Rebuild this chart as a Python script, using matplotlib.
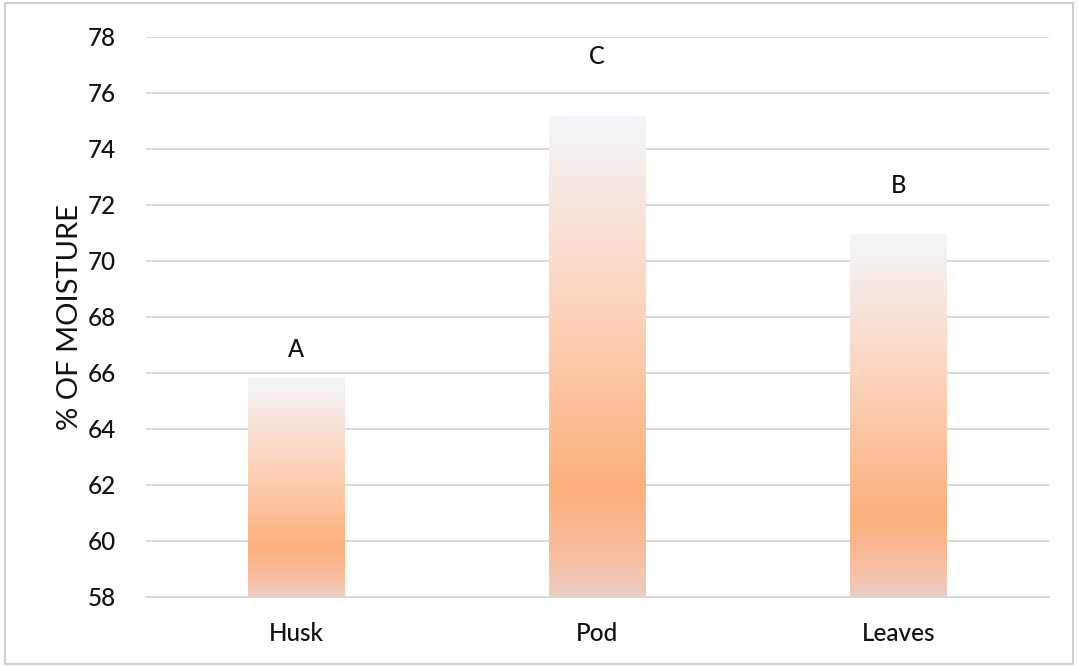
import matplotlib.pyplot as plt
import numpy as np
from matplotlib.colors import LinearSegmentedColormap
from matplotlib.patches import Rectangle

plt.rcParams['font.family'] = ['Lato', 'DejaVu Sans']
plt.rcParams['font.weight'] = 'medium'

categories = ['Husk', 'Pod', 'Leaves']
moisture = [65.85, 75.15, 70.95]
letters = ['A', 'C', 'B']
letter_y = [66.85, 77.3, 72.7]

# vertical gradient, bottom -> top
grad = LinearSegmentedColormap.from_list('bar', [
    (0.0, '#EACDC3'),
    (0.08, '#F7BFA3'),
    (0.22, '#FCB07C'),
    (0.55, '#FDCFB3'),
    (0.82, '#F8E6DE'),
    (1.0, '#F2F6FA'),
])

fig = plt.figure(figsize=(10.78, 6.67), dpi=100)
ax = fig.add_axes([0.135, 0.105, 0.838, 0.84])

ymin, ymax = 58, 78
width = 0.32
g = np.linspace(0, 1, 256).reshape(-1, 1)
for i, v in enumerate(moisture):
    ax.imshow(g, cmap=grad, origin='lower', aspect='auto',
              extent=[i - width / 2, i + width / 2, ymin, v], zorder=2)
    ax.text(i, letter_y[i], letters[i], ha='center', va='center', fontsize=17,
            color='#111111')

ax.set_xlim(-0.5, 2.5)
ax.set_ylim(ymin, ymax)
ax.set_yticks(np.arange(58, 79, 2))
ax.set_xticks(range(len(categories)))
ax.set_xticklabels(categories)
ax.tick_params(axis='both', length=0, labelsize=17.5, labelcolor='#111111')
ax.tick_params(axis='y', pad=21)
ax.tick_params(axis='x', pad=18)
ax.grid(axis='y', color='#D9D9D9', linewidth=1.4, zorder=0)
ax.set_axisbelow(True)
for s in ['top', 'right', 'left']:
    ax.spines[s].set_visible(False)
ax.spines['bottom'].set_color('#D9D9D9')
ax.spines['bottom'].set_linewidth(1.4)
ax.set_ylabel('% OF MOISTURE', fontsize=21, labelpad=4, color='#111111')

fig.patches.append(Rectangle((0.005, 0.005), 0.99, 0.99, transform=fig.transFigure,
                             fill=False, edgecolor='#D0D0D0', linewidth=1.5))

fig.savefig('out.png', dpi=100)
